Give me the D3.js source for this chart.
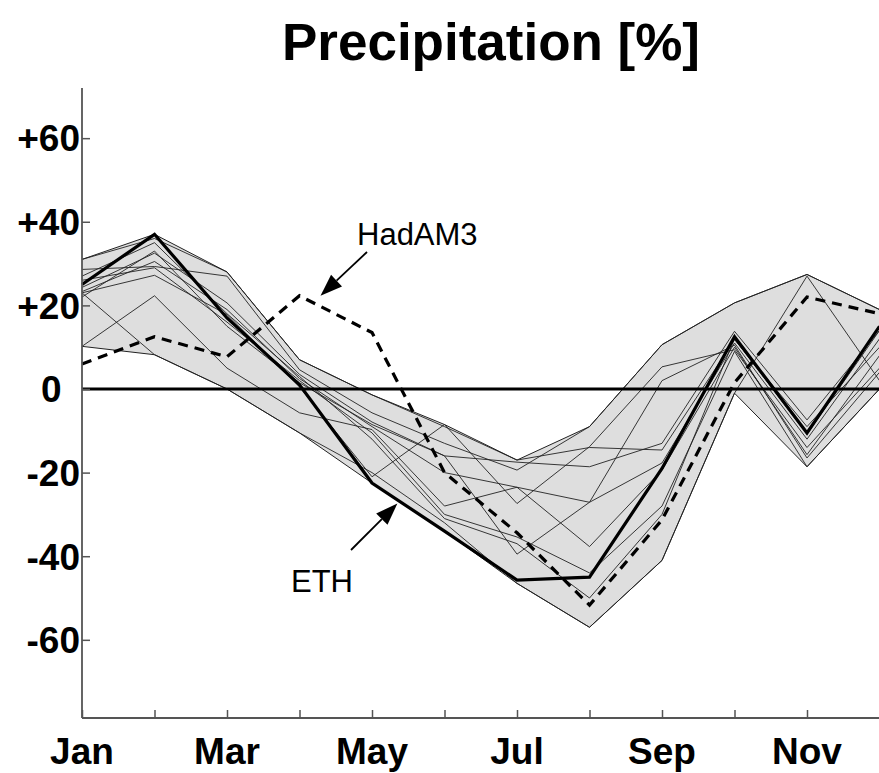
<!DOCTYPE html>
<html>
<head>
<meta charset="utf-8">
<script src="https://cdn.jsdelivr.net/npm/d3@7"></script>
<style>
  html, body { margin: 0; padding: 0; background: #fff; }
  svg { display: block; font-family: "Liberation Sans", Arial, sans-serif; }
</style>
</head>
<body>
<svg id="chart" width="879" height="773"></svg>
<script>
// ---------------- data ----------------
const months = ["Jan","Feb","Mar","Apr","May","Jun","Jul","Aug","Sep","Oct","Nov","Dec"];
const monthLabels = ["Jan","","Mar","","May","","Jul","","Sep","","Nov",""];
const yTicks = [-60, -40, -20, 0, 20, 40, 60];
const yTickLabels = ["-60", "-40", "-20", "0\u2002", "+20", "+40", "+60"];
const title = "Precipitation [%]";

// regional model ensemble members (thin lines), % change per month
const m1  = [31,   36,   28,   7,    -1.4, -9,   -17,   -14,   -14.6, 11.8, -9,    10];
const m2  = [28.6, 29.3, 27,   4.6,  -5.7, -13,  -19.4, -9,    10.6,  20.6, 27.4,  19];
const m3  = [24.3, 32.5, 20.6, 3.5,  -7.9, -16,  -17.5, -18.6, -13,   13.8, -7.4,  14];
const m4  = [23.3, 30.5, 19,   2.5,  -9,   -20,  -23.5, -27.1, -17.7, 11,   -12,   12];
const m5  = [23,   27.2, 17.8, 0.5,  -21,  -8.5, -27.4, -13.8, 5.3,   9.4,  -14,   5];
const m6  = [10.2, 22.3, 5,    -5.7, -9.7, -28,  -23.5, -37.7, -19.4, 10,   -15.7, 8];
const m7  = [23,   8.2,  0,    -10.5,-20,  -32,  -46.5, -57,   -41,   -1,   27,    2];
const m8  = [26,   29,   16,   2,    -10.5,-30,  -35.4, -44,   -28,   9,    -18.6, 0];
const m9  = [27,   35,   18,   3,    -12,  -31,  -37,   -50,   -30,   12,   -10.8, 14];
const m10 = [22,   33,   15,   1.5,  -8.5, -16,  -39.5, -27.1, 2,     10.5, -16.5, 4];
const ensemble = [m1, m2, m3, m4, m5, m6, m7, m8, m9, m10];

// highlighted series
const eth    = [25, 37, 17, 1, -22.5, -34, -45.7, -45, -19, 12.5, -10.5, 15];
const hadam3 = [6, 12.5, 7.7, 22.3, 13.5, -20, -34.4, -51.7, -31.3, 1.5, 22, 18];

// ---------------- layout ----------------
const svg = d3.select("#chart");
const x = d3.scaleLinear().domain([0, 11]).range([82, 879.5]);
const y = d3.scaleLinear().domain([-78.7, 72]).range([718, 88]);
const idx = d3.range(months.length);

const allRCM = ensemble.concat([eth]);
const lo = idx.map(i => d3.min(allRCM, s => s[i]));
const hi = idx.map(i => d3.max(allRCM, s => s[i]));

const line = d3.line().x((d, i) => x(i)).y(d => y(d));
const area = d3.area().x(i => x(i)).y0(i => y(lo[i])).y1(i => y(hi[i]));

// envelope
svg.append("path").datum(idx).attr("d", area)
  .attr("fill", "#dedede").attr("stroke", "none");
svg.append("path").datum(hi).attr("d", line)
  .attr("fill", "none").attr("stroke", "#222").attr("stroke-width", 1);
svg.append("path").datum(lo).attr("d", line)
  .attr("fill", "none").attr("stroke", "#222").attr("stroke-width", 1);

// ensemble thin lines
svg.append("g").selectAll("path").data(ensemble).join("path")
  .attr("d", line).attr("fill", "none")
  .attr("stroke", "#222").attr("stroke-width", 0.9);

// zero line
svg.append("line")
  .attr("x1", x(0)).attr("x2", x(11)).attr("y1", y(0)).attr("y2", y(0))
  .attr("stroke", "#000").attr("stroke-width", 3);

// ETH thick
svg.append("path").datum(eth).attr("d", line)
  .attr("fill", "none").attr("stroke", "#000").attr("stroke-width", 3.2)
  .attr("stroke-linejoin", "miter");

// HadAM3 dashed
svg.append("path").datum(hadam3).attr("d", line)
  .attr("fill", "none").attr("stroke", "#000").attr("stroke-width", 3.2)
  .attr("stroke-dasharray", "10,7");

// axes
const yAxis = d3.axisRight(y).tickValues(yTicks).tickSize(8).tickFormat("");
const gy = svg.append("g").attr("transform", `translate(${x(0)},0)`).call(yAxis);
const xAxis = d3.axisTop(x).tickValues(idx).tickSize(8).tickFormat("");
const gx = svg.append("g").attr("transform", `translate(0,${y.range()[0]})`).call(xAxis);
[gx, gy].forEach(g => {
  g.select(".domain").attr("stroke", "#555").attr("stroke-width", 1.8);
  g.selectAll(".tick line").attr("stroke", "#555").attr("stroke-width", 1.5);
});
gy.select(".domain").attr("d", `M0,${y.range()[0]}V${y.range()[1]}`);
gx.select(".domain").attr("d", `M${x(0)},0H${x(11)}`);

// y tick labels
svg.append("g").selectAll("text").data(yTicks).join("text")
  .attr("x", x(0) - 2).attr("y", d => y(d)).attr("dy", "0.36em")
  .attr("text-anchor", "end").attr("font-weight", "bold").attr("font-size", 37)
  .text((d, i) => yTickLabels[i]);

// x tick labels
svg.append("g").selectAll("text").data(idx.filter(i => monthLabels[i])).join("text")
  .attr("x", i => x(i)).attr("y", 764)
  .attr("text-anchor", "middle").attr("font-weight", "bold").attr("font-size", 37)
  .text(i => monthLabels[i]);

// title
svg.append("text").attr("x", 491).attr("y", 60)
  .attr("text-anchor", "middle").attr("font-weight", "bold").attr("font-size", 51)
  .attr("textLength", 418).attr("lengthAdjust", "spacingAndGlyphs")
  .text(title);

// annotations with arrows
function arrow(x1, y1, x2, y2) {
  const ang = Math.atan2(y2 - y1, x2 - x1);
  const L = 22, W = 8;
  const bx = x2 - L * Math.cos(ang), by = y2 - L * Math.sin(ang);
  svg.append("line").attr("x1", x1).attr("y1", y1).attr("x2", bx).attr("y2", by)
    .attr("stroke", "#000").attr("stroke-width", 1.8);
  const p = [[x2, y2],
    [bx + W * Math.sin(ang), by - W * Math.cos(ang)],
    [bx - W * Math.sin(ang), by + W * Math.cos(ang)]];
  svg.append("polygon").attr("points", p.map(d => d.join(",")).join(" ")).attr("fill", "#000");
}
arrow(367, 252, x(3.29), y(22.3));
svg.append("text").attr("x", 357).attr("y", 245).attr("font-size", 31).text("HadAM3");

arrow(351, 550, x(4.35), y(-27.4));
svg.append("text").attr("x", 291).attr("y", 592).attr("font-size", 31).text("ETH");
</script>
</body>
</html>
